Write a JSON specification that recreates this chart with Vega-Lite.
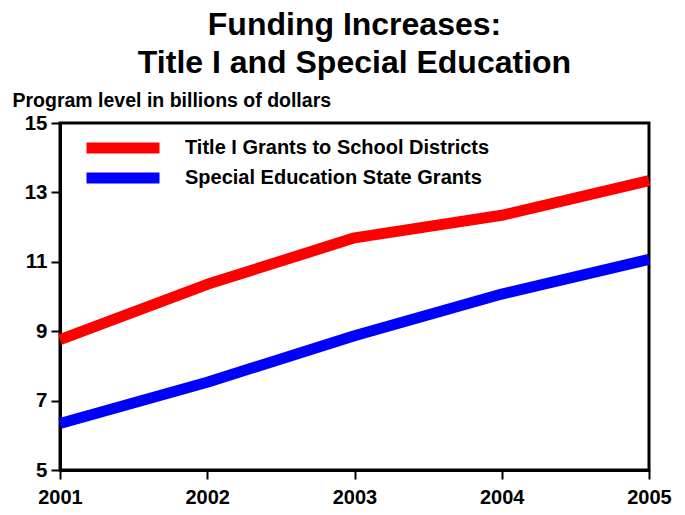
{
  "$schema": "https://vega.github.io/schema/vega-lite/v6.json",
  "width": 589,
  "height": 347,
  "autosize": {"type": "none"},
  "padding": {"left": 60, "top": 123, "right": 36, "bottom": 45},
  "background": "white",
  "title": {
    "text": ["Funding Increases:", "Title I and Special Education"],
    "font": "Liberation Sans",
    "fontSize": 32,
    "fontWeight": "bold",
    "color": "black",
    "anchor": "middle",
    "frame": "group",
    "offset": 10,
    "lineHeight": 38
  },
  "config": {
    "view": {"stroke": "black", "strokeWidth": 3},
    "font": "Liberation Sans"
  },
  "data": {
    "values": [
      {"year": "2001", "program": "Title I Grants to School Districts", "value": 8.76},
      {"year": "2002", "program": "Title I Grants to School Districts", "value": 10.35},
      {"year": "2003", "program": "Title I Grants to School Districts", "value": 11.69},
      {"year": "2004", "program": "Title I Grants to School Districts", "value": 12.34},
      {"year": "2005", "program": "Title I Grants to School Districts", "value": 13.34},
      {"year": "2001", "program": "Special Education State Grants", "value": 6.34},
      {"year": "2002", "program": "Special Education State Grants", "value": 7.53},
      {"year": "2003", "program": "Special Education State Grants", "value": 8.87},
      {"year": "2004", "program": "Special Education State Grants", "value": 10.07},
      {"year": "2005", "program": "Special Education State Grants", "value": 11.07}
    ]
  },
  "mark": {"type": "line", "strokeWidth": 11, "strokeCap": "butt", "strokeJoin": "round"},
  "encoding": {
    "x": {
      "field": "year",
      "type": "ordinal",
      "scale": {"type": "point", "padding": 0},
      "axis": {
        "title": null,
        "labelAngle": 0,
        "labelFont": "Liberation Sans",
        "labelFontSize": 20,
        "labelFontWeight": "bold",
        "labelColor": "black",
        "labelPadding": 8,
        "tickSize": 9,
        "tickWidth": 2,
        "tickColor": "black",
        "domainColor": "black",
        "domainWidth": 3,
        "grid": false
      }
    },
    "y": {
      "field": "value",
      "type": "quantitative",
      "scale": {"domain": [5, 15], "nice": false, "zero": false},
      "axis": {
        "values": [5, 7, 9, 11, 13, 15],
        "title": "Program level in billions of dollars",
        "titleAngle": 0,
        "titleAlign": "left",
        "titleBaseline": "alphabetic",
        "titleX": -48,
        "titleY": -17,
        "titleFont": "Liberation Sans",
        "titleFontSize": 19.5,
        "titleFontWeight": "bold",
        "titleColor": "black",
        "labelFont": "Liberation Sans",
        "labelFontSize": 20.5,
        "labelFontWeight": "bold",
        "labelColor": "black",
        "labelPadding": 4,
        "tickSize": 9,
        "tickWidth": 2,
        "tickColor": "black",
        "domainColor": "black",
        "domainWidth": 3,
        "grid": false
      }
    },
    "color": {
      "field": "program",
      "type": "nominal",
      "sort": ["Title I Grants to School Districts", "Special Education State Grants"],
      "scale": {
        "domain": ["Title I Grants to School Districts", "Special Education State Grants"],
        "range": ["#ff0000", "#0000ff"]
      },
      "legend": {
        "title": null,
        "orient": "none",
        "legendX": 21,
        "legendY": 10,
        "symbolType": "stroke",
        "symbolSize": 5329,
        "symbolStrokeWidth": 11,
        "clipHeight": 30,
        "rowPadding": 0,
        "labelFont": "Liberation Sans",
        "labelFontSize": 20,
        "labelFontWeight": "bold",
        "labelColor": "black",
        "labelOffset": 20,
        "labelLimit": 500
      }
    }
  }
}
